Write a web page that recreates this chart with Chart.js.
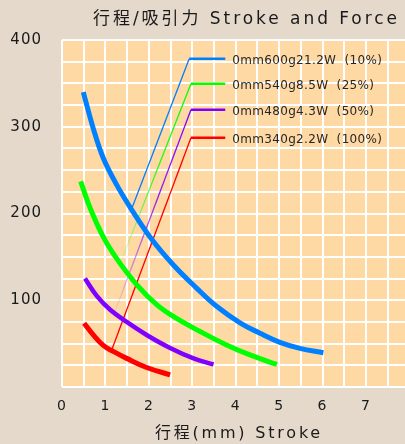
<!DOCTYPE html>
<html>
<head>
<meta charset="utf-8">
<script src="https://cdn.jsdelivr.net/npm/chart.js@4.4.1/dist/chart.umd.min.js"></script>
<style>
html,body{margin:0;padding:0;background:#e5d9cc;}
canvas{display:block;}
</style>
</head>
<body>
<canvas id="c" width="405" height="444"></canvas>
<script>
// ---- data ----
const strokeBlue   = [0.49, 0.72, 0.95, 1.26, 1.61, 2.07, 2.56, 3.10, 3.56, 4.10, 4.56, 5.02, 5.48, 6.02];
const forceBlue    = [340, 298, 264, 233, 204, 170, 141, 114, 93, 74, 62, 51.5, 44.5, 39.5];
const strokeGreen  = [0.43, 0.65, 0.95, 1.26, 1.72, 2.18, 2.64, 3.18, 3.79, 4.33, 4.95];
const forceGreen   = [237, 206, 173, 148, 118, 95, 79, 64, 48.5, 37, 26];
const strokePurple = [0.53, 0.80, 1.11, 1.49, 1.95, 2.49, 3.03, 3.49];
const forcePurple  = [125, 105, 89, 75, 60, 45, 33, 26];
const strokeRed    = [0.51, 0.72, 0.95, 1.18, 1.49, 1.95, 2.49];
const forceRed     = [73.5, 60, 48, 41, 33, 22.5, 14];

const seriesLabels = ['0mm600g21.2W  (10%)', '0mm540g8.5W  (25%)', '0mm480g4.3W  (50%)', '0mm340g2.2W  (100%)'];
// leader lines: legend key end, elbow, and the point on the curve (data units)
const leaderKeyEndX = [3.76, 3.76, 3.76, 3.76];
const leaderElbowX  = [2.93, 2.97, 2.97, 2.97];
const leaderElbowY  = [378.5, 349.6, 319.6, 287.3];
const leaderEndX    = [1.61, 1.33, 1.22, 1.145];
const leaderEndY    = [206, 141, 87, 42.7];

const xTickLabels = [0, 1, 2, 3, 4, 5, 6, 7];
const yTickLabels = [100, 200, 300, 400];

const titleText = '行程/吸引力 Stroke and Force';
const xTitleText = '行程(mm) Stroke';

// ---- styles ----
const colors = ['#0080ff', '#00ff00', '#8000ff', '#ff0000'];
const rgb = [[0,128,255],[0,255,0],[128,0,255],[255,0,0]];
const fades = [false, true, true, false];
const widths = [5, 5, 4.5, 5];
const FONT = '"DejaVu Sans", "Noto Sans CJK JP", sans-serif';

function pts(xs, ys){ return xs.map((x,i)=>({x:x, y:ys[i]})); }

const curves = [[strokeBlue,forceBlue],[strokeGreen,forceGreen],[strokePurple,forcePurple],[strokeRed,forceRed]];

const datasets = [];
curves.forEach((c,i)=>{
  datasets.push({
    data: pts(c[0], c[1]),
    borderColor: colors[i], borderWidth: widths[i],
    pointRadius: 0, tension: 0.4, fill: false, order: 0
  });
});
curves.forEach((c,i)=>{
  datasets.push({
    data: [{x: leaderElbowX[i], y: leaderElbowY[i]}, {x: leaderKeyEndX[i], y: leaderElbowY[i]}],
    borderColor: colors[i], borderWidth: 2.5, pointRadius: 0, tension: 0, order: 5
  });
  datasets.push({
    data: [{x: leaderElbowX[i], y: leaderElbowY[i]}, {x: leaderEndX[i], y: leaderEndY[i]}],
    borderWidth: 1.3, pointRadius: 0, tension: 0, order: 5,
    borderColor: (ctx) => {
      const ch = ctx.chart;
      if (!ch.chartArea || !fades[i]) return colors[i];
      const xs = ch.scales.x, ys = ch.scales.y;
      const g = ch.ctx.createLinearGradient(
        xs.getPixelForValue(leaderElbowX[i]), ys.getPixelForValue(leaderElbowY[i]),
        xs.getPixelForValue(leaderEndX[i]), ys.getPixelForValue(leaderEndY[i]));
      const [r,gg,b] = rgb[i];
      g.addColorStop(0, `rgba(${r},${gg},${b},1)`);
      g.addColorStop(0.45, `rgba(${r},${gg},${b},0.85)`);
      g.addColorStop(1, `rgba(${r},${gg},${b},0.05)`);
      return g;
    }
  });
});

function drawFitted(ctx, text, x, y, font, width, color){
  ctx.font = font;
  ctx.letterSpacing = '0px';
  const w0 = ctx.measureText(text).width;
  const n = [...text].length;
  const sp = (width - w0) / n;
  ctx.letterSpacing = sp + 'px';
  ctx.fillStyle = color;
  ctx.textAlign = 'left';
  ctx.textBaseline = 'alphabetic';
  ctx.fillText(text, x, y);
  return sp;
}

const bgPlugin = {
  id: 'bg',
  beforeDraw(chart){
    const {ctx, chartArea: a} = chart;
    ctx.save();
    ctx.fillStyle = '#e5d9cc';
    ctx.fillRect(0, 0, chart.width, chart.height);
    ctx.fillStyle = '#ffd9a3';
    ctx.fillRect(a.left, a.top, a.right - a.left, a.bottom - a.top);
    ctx.restore();
    ctx.letterSpacing = '1px';
  },
  afterDraw(chart){
    const {ctx, scales} = chart;
    ctx.save();
    drawFitted(ctx, titleText, 93, 24, '17px ' + FONT, 307, '#1a1a1a');
    drawFitted(ctx, xTitleText, 155, 438, '16px ' + FONT, 168, '#1a1a1a');
    ctx.font = '12px ' + FONT;
    ctx.letterSpacing = '0px';
    const w0 = ctx.measureText(seriesLabels[0]).width;
    const sp = (150 - w0) / [...seriesLabels[0]].length;
    seriesLabels.forEach((t,i)=>{
      ctx.letterSpacing = sp + 'px';
      ctx.fillStyle = '#262626';
      ctx.textAlign = 'left';
      ctx.textBaseline = 'alphabetic';
      const px = scales.x.getPixelForValue(leaderKeyEndX[i]) + 7;
      const py = scales.y.getPixelForValue(leaderElbowY[i]) + 5.5;
      ctx.fillText(t, px, py);
    });
    ctx.restore();
  }
};

new Chart(document.getElementById('c'), {
  type: 'line',
  data: { datasets: datasets },
  options: {
    responsive: false,
    animation: false,
    events: [],
    layout: { padding: { top: 40, left: 0, right: 0, bottom: 0 } },
    plugins: { legend: { display: false }, tooltip: { enabled: false }, title: { display: false } },
    scales: {
      x: {
        type: 'linear', min: 0, max: 7.9,
        afterFit: (s) => { s.height = 57; },
        border: { display: false },
        grid: { color: '#ffffff', lineWidth: 2, drawTicks: false },
        ticks: {
          stepSize: 0.5, autoSkip: false, maxRotation: 0, includeBounds: false,
          padding: 11, color: '#1a1a1a', font: { family: FONT, size: 14 },
          callback: (v) => xTickLabels.includes(v) ? String(v) : ''
        }
      },
      y: {
        type: 'linear', min: 0, max: 400,
        afterFit: (s) => { s.width = 62; },
        border: { display: false },
        grid: { color: '#ffffff', lineWidth: 2, drawTicks: false },
        ticks: {
          stepSize: 25, autoSkip: false, padding: 20, color: '#1a1a1a',
          font: { family: FONT, size: 15 },
          callback: (v) => yTickLabels.includes(v) ? String(v) : ''
        }
      }
    }
  },
  plugins: [bgPlugin]
});
</script>
</body>
</html>
